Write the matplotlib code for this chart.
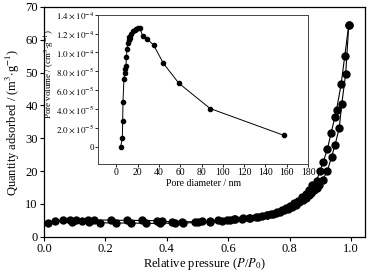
import numpy as np
import matplotlib.pyplot as plt

plt.rcParams['font.family'] = ['Liberation Serif', 'DejaVu Serif']
plt.rcParams['mathtext.fontset'] = 'stix'

# N2 isotherm, adsorption branch
p_ads = [0.012, 0.036, 0.062, 0.092, 0.123, 0.148, 0.182, 0.233, 0.282, 0.332,
         0.378, 0.427, 0.454, 0.503, 0.541, 0.579, 0.606, 0.622, 0.649, 0.671,
         0.698, 0.725, 0.740, 0.755, 0.769, 0.782, 0.795, 0.808, 0.820, 0.832,
         0.843, 0.853, 0.862, 0.871, 0.880, 0.889, 0.897, 0.908, 0.923, 0.937,
         0.948, 0.962, 0.970, 0.983, 0.993]
q_ads = [4.2, 4.8, 5.0, 4.5, 4.8, 4.4, 4.3, 4.2, 4.2, 4.1,
         4.1, 4.2, 4.2, 4.4, 4.6, 4.9, 5.2, 5.3, 5.6, 5.8,
         6.1, 6.5, 6.9, 7.2, 7.6, 8.1, 8.6, 9.2, 9.8, 10.5,
         11.2, 11.9, 12.6, 13.3, 14.2, 15.0, 15.7, 17.4, 20.0, 24.4,
         27.9, 33.2, 40.4, 49.7, 64.6]

# desorption branch
p_des = [0.993, 0.980, 0.968, 0.953, 0.948, 0.935, 0.923, 0.910, 0.899, 0.888,
         0.874, 0.864, 0.852, 0.840, 0.828, 0.815, 0.802, 0.789, 0.775, 0.760,
         0.745, 0.728, 0.710, 0.690, 0.668, 0.645, 0.620, 0.595, 0.568, 0.541,
         0.516, 0.492, 0.448, 0.416, 0.383, 0.367, 0.318, 0.271, 0.218, 0.164,
         0.142, 0.104, 0.085]
q_des = [64.6, 55.1, 46.4, 38.6, 36.5, 31.5, 26.6, 22.9, 20.0, 17.1,
         15.7, 14.2, 13.0, 12.0, 11.0, 10.2, 9.4, 8.7, 8.1, 7.5,
         7.0, 6.6, 6.3, 6.0, 5.7, 5.5, 5.3, 5.1, 5.0, 4.8,
         4.7, 4.6, 4.6, 4.6, 4.7, 4.9, 5.0, 5.0, 5.1, 5.1,
         5.2, 5.1, 5.0]

# pore size distribution (inset)
d_pore = [4.0, 5.6, 5.9, 6.2, 7.1, 8.1, 8.5, 9.0, 9.4, 10.0, 10.9, 11.6, 11.8,
          12.5, 14.1, 15.6, 17.2, 18.8, 20.3, 21.9, 24.7, 29.1, 35.1, 44.2,
          58.6, 88.0, 157.0]
v_pore = [0.0, 1.0e-5, 2.76e-5, 4.77e-5, 7.2e-5, 8.27e-5, 7.85e-5, 8.56e-5,
          9.54e-5, 1.04e-4, 1.096e-4, 1.13e-4, 1.16e-4, 1.15e-4, 1.20e-4,
          1.227e-4, 1.237e-4, 1.248e-4, 1.255e-4, 1.262e-4, 1.174e-4,
          1.142e-4, 1.075e-4, 8.84e-5, 6.75e-5, 4.07e-5, 1.24e-5]

inset_yticks = [0, 2e-5, 4e-5, 6e-5, 8e-5, 1.0e-4, 1.2e-4, 1.4e-4]
inset_ylabels = ['0', r'$2.0\times10^{-5}$', r'$4.0\times10^{-5}$', r'$6.0\times10^{-5}$',
                 r'$8.0\times10^{-5}$', r'$1.0\times10^{-4}$', r'$1.2\times10^{-4}$',
                 r'$1.4\times10^{-4}$']

fig = plt.figure(figsize=(3.9, 2.77), dpi=100)
ax = fig.add_axes([0.113, 0.145, 0.823, 0.830])
ax.plot(p_ads, q_ads, '-o', color='black', lw=0.8, ms=5)
ax.plot(p_des, q_des, '-o', color='black', lw=0.8, ms=5)
ax.set_xlim(0, 1.046)
ax.set_ylim(0, 70)
ax.set_xticks(np.arange(0, 1.01, 0.2))
ax.set_xticklabels(['0.0', '0.2', '0.4', '0.6', '0.8', '1.0'])
ax.set_yticks(np.arange(0, 71, 10))
ax.tick_params(direction='out', length=3, width=0.8, labelsize=9, pad=1.5)
for s in ax.spines.values():
    s.set_linewidth(0.9)
ax.set_xlabel(r'Relative pressure ($P$/$P_0$)', fontsize=9, labelpad=1)
ax.set_ylabel(r'Quantity adsorbed / (m$^3$$\cdot$g$^{-1}$)', fontsize=9, labelpad=2)

ins = fig.add_axes([0.252, 0.408, 0.538, 0.539])
ins.plot(d_pore, v_pore, '-o', color='black', lw=0.7, ms=3)
ins.set_xlim(-17, 180)
ins.set_ylim(-1.8e-5, 1.4e-4)
ins.set_xticks(np.arange(0, 181, 20))
ins.set_yticks(inset_yticks)
ins.set_yticklabels(inset_ylabels)
ins.tick_params(axis='x', direction='out', length=2, width=0.6, labelsize=7, pad=1)
ins.tick_params(axis='y', direction='out', length=2, width=0.6, labelsize=6.5, pad=1)
for s in ins.spines.values():
    s.set_linewidth(0.7)
    s.set_color('#444444')
ins.set_xlabel('Pore diameter / nm', fontsize=7, labelpad=1)
ins.set_ylabel(r'Pore volume / (cm$^3$$\cdot$g$^{-1}$)', fontsize=6.5)
ins.yaxis.set_label_coords(-0.197, 0.6)

fig.savefig('out.png', dpi=100)
